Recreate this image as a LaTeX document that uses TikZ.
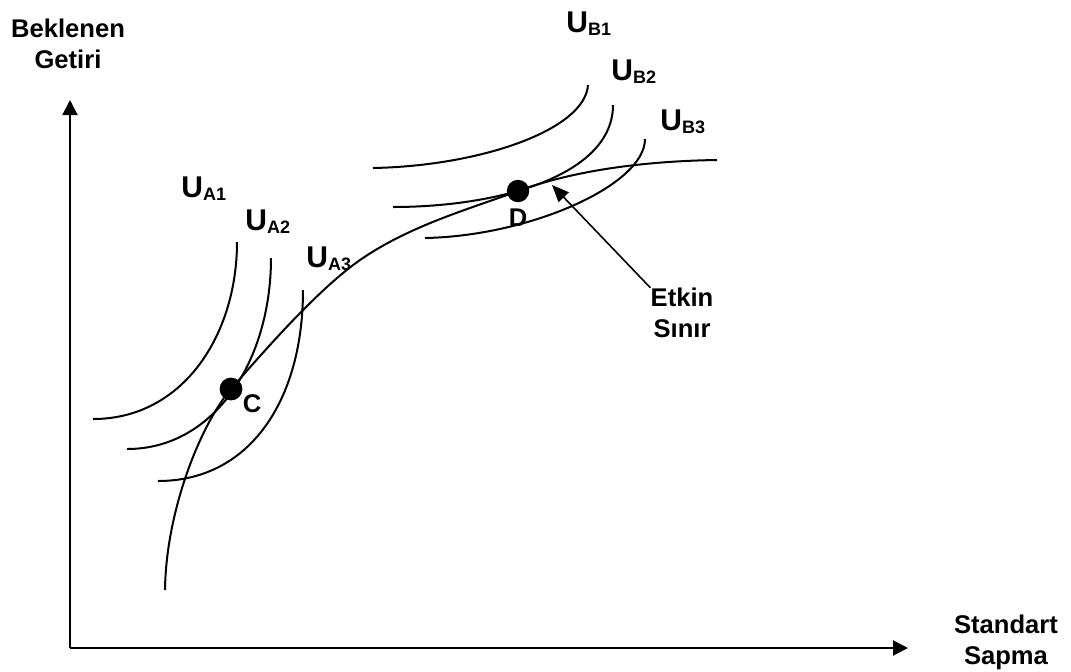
\documentclass[tikz,border=0pt]{standalone}
\usepackage{fontspec}
\setmainfont{Liberation Sans}
\usepackage{tikz}
\usetikzlibrary{arrows.meta}

\newcommand{\ulab}[1]{{\fontsize{15}{18}\selectfont U}\raisebox{-1.5pt}{\fontsize{9}{10}\selectfont #1}}

\begin{document}
\begin{tikzpicture}[x=0.5pt,y=-0.5pt,
  curve/.style={line width=1pt},
  axis/.style={line width=1pt,-{Triangle[length=7.5pt,width=7.5pt]}},
  lbl/.style={font=\fontsize{12.8}{15.5}\selectfont\bfseries,align=center,inner sep=0pt},
  ulbl/.style={font=\bfseries,anchor=base west,inner sep=0pt}]
  \useasboundingbox (0,0) rectangle (1071,671);
  % Axes
  \coordinate (O) at (70,648);
  \coordinate (Y) at (70,100);
  \coordinate (X) at (908,648);
  \draw[axis] (O) -- (Y);
  \draw[axis] (O) -- (X);
  \node[lbl] (getiri) at (68,44) {Beklenen\\Getiri};
  \node[lbl] (sapma) at (1006,642) {Standart\\Sapma};
  % Efficient frontier
  \coordinate (C) at (231,389);
  \coordinate (P) at (360,260);
  \coordinate (D) at (518,191);
  \draw[curve] (165,590) .. controls (166,510) and (201,424) .. (C)
    .. controls (271,343) and (320,288) .. (P)
    .. controls (410,225.5) and (468,209.5) .. (D)
    .. controls (578,169) and (650,161) .. (717,160);
  % Indifference curves of investor A
  \draw[curve] (93,419) .. controls (183,419) and (237,335) .. (237,242);
  \draw[curve] (127,449) .. controls (215,449) and (271,360) .. (271,258);
  \draw[curve] (158,481) .. controls (250,481) and (303,400) .. (303,290);
  % Indifference curves of investor B
  \draw[curve] (373,168) .. controls (480,166) and (585,130) .. (588,85);
  \draw[curve] (393,207) .. controls (500,207) and (613,175) .. (613,105);
  \draw[curve] (425,238) .. controls (530,236) and (645,185) .. (645,139);
  \node[ulbl] (ua1) at (181,197) {\ulab{A1}};
  \node[ulbl] (ua2) at (245,230) {\ulab{A2}};
  \node[ulbl] (ua3) at (306,267) {\ulab{A3}};
  \node[ulbl] (ub1) at (566,32) {\ulab{B1}};
  \node[ulbl] (ub2) at (611,80) {\ulab{B2}};
  \node[ulbl] (ub3) at (660,130) {\ulab{B3}};
  % Tangency points
  \fill (C) circle (5.7pt);
  \fill (D) circle (5.6pt);
  \node[lbl] (clab) at (252,404) {C};
  \node[lbl] (dlab) at (518,218) {D};
  \node[lbl] (etkin) at (682,313) {Etkin\\Sınır};
  \coordinate (T) at (552,185);
  \draw[line width=0.8pt,-{Triangle[length=8.5pt,width=7pt]}] (etkin.north west) -- (T);
\end{tikzpicture}
\end{document}
